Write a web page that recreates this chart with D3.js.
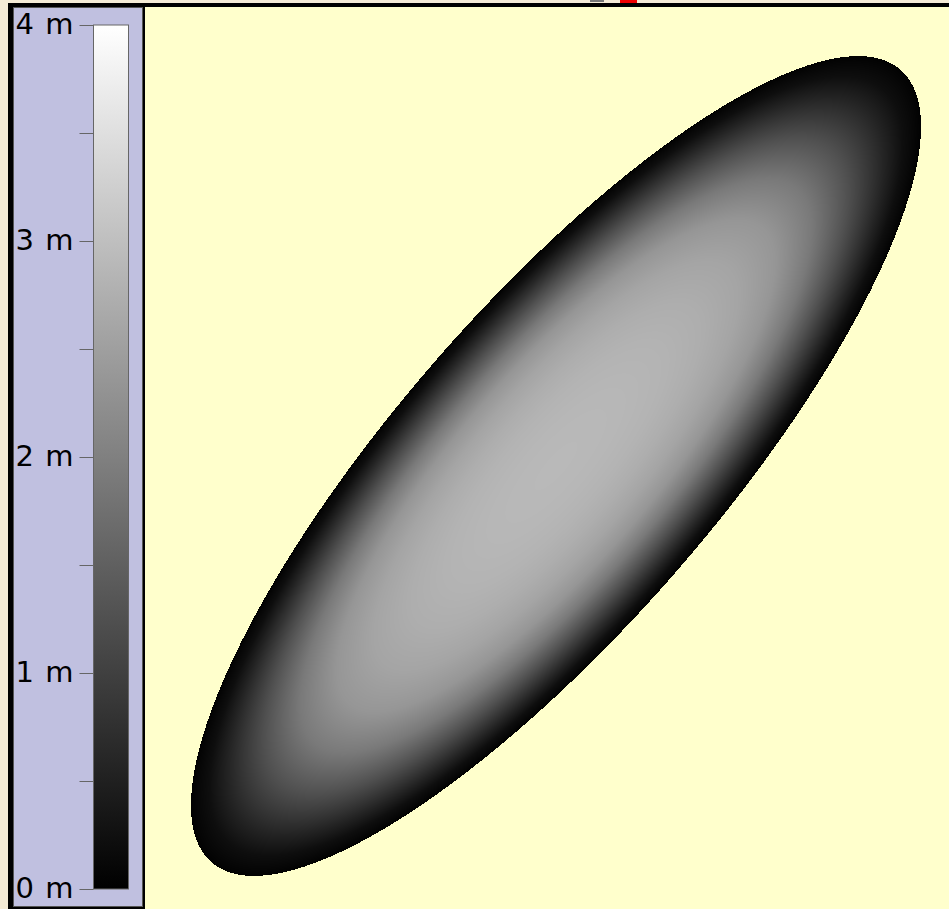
<!DOCTYPE html>
<html>
<head>
<meta charset="utf-8">
<script src="https://cdn.jsdelivr.net/npm/d3@7"></script>
<style>
  body { margin: 0; background: #f4ebd6; overflow: hidden; }
  svg { display: block; }
</style>
</head>
<body>
<div id="chart"></div>
<script>
// field extent (m) and the mound that sits in it
var fieldX = [0, 80.4]
var fieldY = [0, 90.2]
var moundCentre = [41.1, 44.3]
var moundAxes = [52.5, 16.0]   // semi-major, semi-minor
var moundAngle = 49            // degrees, counter-clockwise

// height (m) against normalised elliptical radius
var profileR = [0, 0.1, 0.2, 0.3, 0.4, 0.5, 0.6, 0.7, 0.8, 0.9, 0.95, 1.0]
var profileH = [2.9, 2.89, 2.86, 2.81, 2.72, 2.58, 2.35, 1.9, 1.25, 0.55, 0.22, 0.03]

// legend
var legendDomain = [0, 4]
var legendTicks = [0, 0.5, 1, 1.5, 2, 2.5, 3, 3.5, 4]

var width = 949, height = 909
var plot = {left: 145, top: 7, right: 949, bottom: 909}

var svg = d3.select("#chart").append("svg")
  .attr("width", width)
  .attr("height", height)

// black frame
svg.append("rect").attr("x", 8).attr("y", 3).attr("width", width - 8).attr("height", height - 3)
  .attr("fill", "#000")

// plot background
svg.append("rect")
  .attr("x", plot.left).attr("y", plot.top)
  .attr("width", plot.right - plot.left).attr("height", plot.bottom - plot.top)
  .attr("fill", "#ffffcc")

// cut-off title remnants at the very top
svg.append("rect").attr("x", 590).attr("y", 0).attr("width", 14).attr("height", 2).attr("fill", "#777")
svg.append("rect").attr("x", 620).attr("y", 0).attr("width", 17).attr("height", 3).attr("fill", "#e00")

// scales for the field
var x = d3.scaleLinear().domain(fieldX).range([plot.left, plot.right])
var y = d3.scaleLinear().domain(fieldY).range([plot.bottom, plot.top])
var colour = d3.scaleLinear().domain(legendDomain).range(["#000", "#fff"])
var profile = d3.scaleLinear().domain(profileR).range(profileH).clamp(true)

// rasterise the mound
var w = plot.right - plot.left, h = plot.bottom - plot.top
var canvas = document.createElement("canvas")
canvas.width = w
canvas.height = h
var ctx = canvas.getContext("2d")
var img = ctx.createImageData(w, h)
var th = moundAngle * Math.PI / 180
var c = Math.cos(th), s = Math.sin(th)
for (var j = 0; j < h; j++) {
  var dy = y.invert(plot.top + j + 0.5) - moundCentre[1]
  for (var i = 0; i < w; i++) {
    var dx = x.invert(plot.left + i + 0.5) - moundCentre[0]
    var u = (dx * c + dy * s) / moundAxes[0]
    var v = (-dx * s + dy * c) / moundAxes[1]
    var r = Math.sqrt(u * u + v * v)
    if (r > 1) continue
    var col = d3.rgb(colour(profile(r)))
    var k = (j * w + i) * 4
    img.data[k] = col.r
    img.data[k + 1] = col.g
    img.data[k + 2] = col.b
    img.data[k + 3] = 255
  }
}
ctx.putImageData(img, 0, 0)
svg.append("image")
  .attr("x", plot.left).attr("y", plot.top)
  .attr("width", w).attr("height", h)
  .attr("href", canvas.toDataURL())

// legend panel
svg.append("rect")
  .attr("x", 13.5).attr("y", 7.5).attr("width", 129).attr("height", 899)
  .attr("fill", "#c0c0e0").attr("stroke", "#555")

var legendY = d3.scaleLinear().domain(legendDomain).range([889, 25])

var grad = svg.append("defs").append("linearGradient")
  .attr("id", "bar").attr("x1", 0).attr("y1", 1).attr("x2", 0).attr("y2", 0)
grad.selectAll("stop").data(legendTicks).enter().append("stop")
  .attr("offset", function(d) { return (d - legendDomain[0]) / (legendDomain[1] - legendDomain[0]) })
  .attr("stop-color", function(d) { return colour(d) })

svg.append("rect")
  .attr("x", 93.5).attr("y", legendY(4))
  .attr("width", 35).attr("height", legendY(0) - legendY(4))
  .attr("fill", "url(#bar)").attr("stroke", "#666")

var axis = svg.append("g")
  .attr("transform", "translate(93.5,0)")
  .call(d3.axisLeft(legendY)
    .tickValues(legendTicks)
    .tickSize(14)
    .tickPadding(5)
    .tickFormat(function(d) { return d % 1 === 0 ? d + " m" : "" }))
axis.select(".domain").remove()
axis.selectAll("line").attr("stroke", "#666")
axis.selectAll("text")
  .attr("fill", "#000")
  .attr("dy", "0.3em")
  .style("font-family", "DejaVu Sans, sans-serif")
  .style("font-size", "29px")
  .style("letter-spacing", "1px")
</script>
</body>
</html>
